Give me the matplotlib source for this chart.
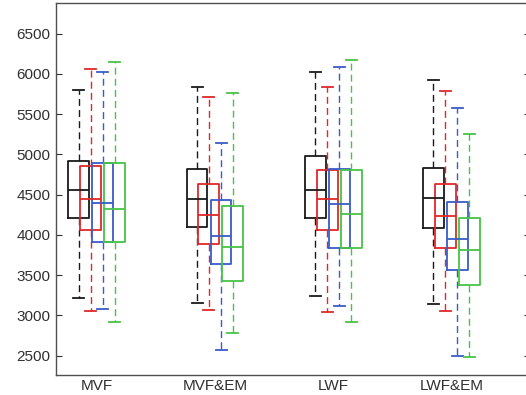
import matplotlib
matplotlib.use("Agg")
import matplotlib.pyplot as plt
import numpy as np

plt.rcParams['font.family'] = ['Liberation Sans', 'DejaVu Sans']

# groups and series (black, red, blue, green)
groups = ["MVF", "MVF&EM", "LWF", "LWF&EM"]
colors = ["#1a1a1a", "#e02828", "#3a5cc8", "#46c446"]

# values, one row per group, one column per series
whislo = [[3218, 3056, 3081, 2919],
          [3160, 3068, 2575, 2786],
          [3246, 3040, 3118, 2923],
          [3139, 3056, 2492, 2480]]
q1 = [[4204, 4059, 3910, 3910],
      [4096, 3885, 3640, 3429],
      [4216, 4059, 3843, 3843],
      [4084, 3843, 3566, 3375]]
med = [[4552, 4445, 4390, 4320],
       [4445, 4241, 3988, 3852],
       [4552, 4445, 4378, 4258],
       [4461, 4233, 3951, 3818]]
q3 = [[4912, 4859, 4888, 4896],
      [4813, 4631, 4432, 4361],
      [4979, 4805, 4813, 4805],
      [4830, 4631, 4407, 4216]]
whishi = [[5800, 6056, 6028, 6148],
          [5833, 5713, 5141, 5766],
          [6028, 5833, 6090, 6173],
          [5928, 5783, 5571, 5248]]

fig = plt.figure(figsize=(5.26, 3.95), dpi=100)
ax = fig.add_axes([56/526, 20/395, 474/526, 372/395])

offsets = [-0.152, -0.051, 0.051, 0.152]
for j, c in enumerate(colors):
    stats = []
    for i in range(len(groups)):
        stats.append(dict(whislo=whislo[i][j], q1=q1[i][j], med=med[i][j],
                          q3=q3[i][j], whishi=whishi[i][j], fliers=[]))
    pos = np.arange(1, len(groups) + 1) + offsets[j]
    ax.bxp(stats, positions=pos, widths=0.177, capwidths=0.093,
           showfliers=False, manage_ticks=False,
           boxprops=dict(color=c, linewidth=1.3),
           medianprops=dict(color=c, linewidth=1.3),
           whiskerprops=dict(color=c, linewidth=1.0, linestyle=(0, (5, 3))),
           capprops=dict(color=c, linewidth=1.3))

ax.set_xlim(0.655, 4.665)
ax.set_ylim(2260, 6880)
ax.set_yticks(np.arange(2500, 6501, 500))
ax.set_xticks(np.arange(1, len(groups) + 1))
ax.set_xticklabels(groups)
ax.tick_params(axis='y', direction='in', length=4, left=True, right=True,
               labelsize=11, colors='#303030', pad=4)
ax.tick_params(axis='x', length=0, labelsize=11, colors='#303030', pad=3)
for s in ax.spines.values():
    s.set_color('#505050')
    s.set_linewidth(1.0)

fig.savefig("out.png", dpi=100)
